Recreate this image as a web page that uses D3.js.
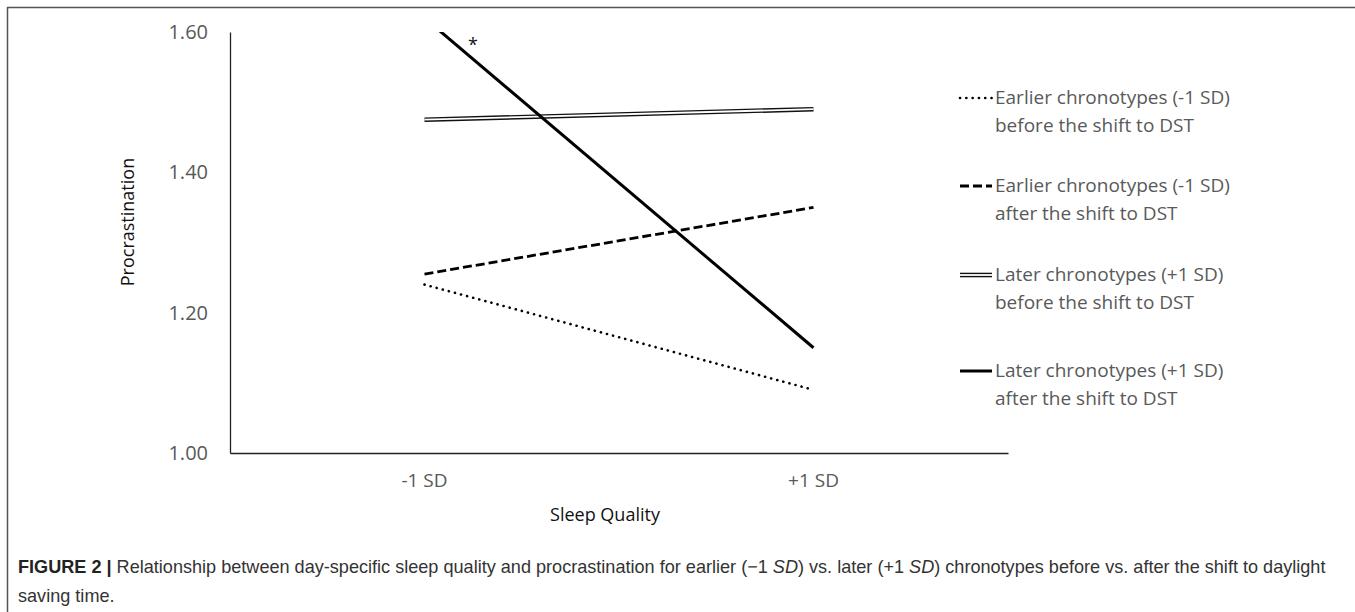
<!DOCTYPE html>
<html><head><meta charset="utf-8">
<script src="https://cdn.jsdelivr.net/npm/d3@7"></script>
<style>body{margin:0;background:#fff;} svg{display:block;}</style>
</head><body>
<svg id="c" width="1355" height="612"></svg>
<script>
const categories = ["-1 SD", "+1 SD"];
const earlierBefore = [1.24, 1.09];
const earlierAfter = [1.255, 1.35];
const laterBefore = [1.475, 1.49];
const laterAfter = [1.62, 1.15];
const yTicks = [1.00, 1.20, 1.40, 1.60];
const seriesNames = [
  ["Earlier chronotypes (-1 SD)", "before the shift to DST"],
  ["Earlier chronotypes (-1 SD)", "after the shift to DST"],
  ["Later chronotypes (+1 SD)", "before the shift to DST"],
  ["Later chronotypes (+1 SD)", "after the shift to DST"]
];
const seriesStyles = ["dotted", "dashed", "double", "solid"];
const allSeries = [earlierBefore, earlierAfter, laterBefore, laterAfter];

(function(){
const svg = d3.select("#c");
const pL = 230, pR = 1008, pT = 32, pB = 453;
const x = d3.scaleBand().domain(categories).range([pL, pR]);
const y = d3.scaleLinear().domain([1.0, 1.6]).range([pB, pT]);
const FONT = "'Open Sans', sans-serif";

// frame
svg.append("line").attr("x1",7).attr("x2",1355).attr("y1",7.5).attr("y2",7.5).attr("stroke","#555").attr("stroke-width",1.5);
svg.append("line").attr("x1",7.5).attr("x2",7.5).attr("y1",7).attr("y2",612).attr("stroke","#555").attr("stroke-width",1.5);

svg.append("defs").append("clipPath").attr("id","plot").append("rect")
  .attr("x",pL).attr("y",pT).attr("width",pR-pL).attr("height",pB-pT);

// axes
const yAxis = d3.axisLeft(y).tickValues(yTicks).tickFormat(d3.format(".2f")).tickSize(0).tickPadding(22);
const gy = svg.append("g").attr("transform",`translate(${pL},0)`).call(yAxis);
gy.select(".domain").attr("stroke","#222").attr("stroke-width",1.3);
gy.selectAll("text").attr("font-family",FONT).attr("font-size",20).attr("fill","#595959");

const xAxis = d3.axisBottom(x).tickSize(0).tickPadding(21);
const gx = svg.append("g").attr("transform",`translate(0,${pB})`).call(xAxis);
gx.select(".domain").attr("stroke","#222").attr("stroke-width",1.3);
gx.selectAll("text").attr("font-family",FONT).attr("font-size",19).attr("fill","#595959");

svg.append("text").attr("x",605).attr("y",521).attr("text-anchor","middle")
  .attr("font-family",FONT).attr("font-size",18).attr("fill","#111").text("Sleep Quality");
svg.append("text").attr("transform","translate(134,222) rotate(-90)").attr("text-anchor","middle")
  .attr("font-family",FONT).attr("font-size",18).attr("fill","#111").text("Procrastination");

const line = d3.line().x((d,i)=>x(categories[i]) + x.bandwidth()/2).y(d=>y(d));
const plot = svg.append("g").attr("clip-path","url(#plot)");

function styleLine(sel, style){
  if(style==="dotted") sel.attr("stroke","#000").attr("stroke-width",2.6).attr("stroke-linecap","round").attr("stroke-dasharray","0.1 6.2");
  else if(style==="dashed") sel.attr("stroke","#000").attr("stroke-width",2.8).attr("stroke-dasharray","9 4");
  else if(style==="solid") sel.attr("stroke","#000").attr("stroke-width",3);
}
allSeries.forEach((vals,k)=>{
  const st = seriesStyles[k];
  if(st==="double"){
    plot.append("path").datum(vals).attr("d",line).attr("fill","none").attr("stroke","#111").attr("stroke-width",4.6);
    plot.append("path").datum(vals).attr("d",line).attr("fill","none").attr("stroke","#fff").attr("stroke-width",1.8);
  } else {
    plot.append("path").datum(vals).attr("d",line).attr("fill","none").call(styleLine, st);
  }
});

// asterisk
svg.append("text").attr("x",473).attr("y",51).attr("text-anchor","middle")
  .attr("font-family",FONT).attr("font-size",18).attr("fill","#111").text("*");

// legend
const legY = [98, 186, 275, 371];
seriesNames.forEach((nm,k)=>{
  const yy = legY[k];
  const st = seriesStyles[k];
  if(st==="double"){
    svg.append("line").attr("x1",960).attr("x2",992).attr("y1",yy).attr("y2",yy).attr("stroke","#111").attr("stroke-width",4.6);
    svg.append("line").attr("x1",960).attr("x2",992).attr("y1",yy).attr("y2",yy).attr("stroke","#fff").attr("stroke-width",1.8);
  } else {
    svg.append("line").attr("x1",960).attr("x2",992).attr("y1",yy).attr("y2",yy).call(styleLine, st);
  }
  const t = svg.append("text").attr("x",995).attr("y",yy+6)
    .attr("font-family",FONT).attr("font-size",19).attr("fill","#595959");
  t.append("tspan").attr("x",995).text(nm[0]);
  t.append("tspan").attr("x",995).attr("dy",28).text(nm[1]);
});

// caption
const CF = "'Liberation Sans', Arial, sans-serif";
const cap = svg.append("text").attr("x",18).attr("y",573)
  .attr("font-family",CF).attr("font-size",18).attr("fill","#333");
cap.append("tspan").attr("font-weight","bold").attr("fill","#222").text("FIGURE 2 | ");
cap.append("tspan").text("Relationship between day-specific sleep quality and procrastination for earlier (\u22121 ");
cap.append("tspan").attr("font-style","italic").text("SD");
cap.append("tspan").text(") vs. later (+1 ");
cap.append("tspan").attr("font-style","italic").text("SD");
cap.append("tspan").text(") chronotypes before vs. after the shift to daylight");
const w = cap.node().getComputedTextLength();
if (w > 0) cap.attr("font-size", 18 * 1308 / w);
svg.append("text").attr("x",18).attr("y",602)
  .attr("font-family",CF).attr("font-size",cap.attr("font-size")).attr("fill","#333").text("saving time.");
})();
</script>
</body></html>
